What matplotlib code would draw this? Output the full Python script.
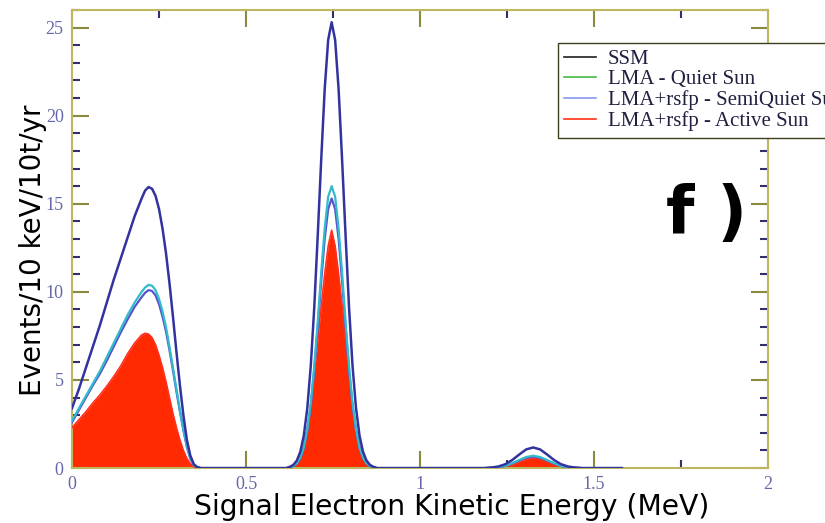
import numpy as np
import matplotlib
matplotlib.use('Agg')
import matplotlib.pyplot as plt
from matplotlib.lines import Line2D
from matplotlib.ticker import MultipleLocator

# energy grid (MeV): first bump, 7Be line, pep line, tail
energy = [0.00, 0.02, 0.04, 0.06, 0.08, 0.10, 0.12, 0.14, 0.16, 0.18, 0.20,
          0.21, 0.22, 0.23, 0.24, 0.25, 0.26, 0.27, 0.28, 0.29, 0.30, 0.31,
          0.32, 0.33, 0.34, 0.35, 0.36, 0.37,
          0.616, 0.626, 0.636, 0.646, 0.656, 0.666, 0.676, 0.686, 0.696,
          0.706, 0.716, 0.726, 0.736, 0.746, 0.756, 0.766, 0.776, 0.786,
          0.796, 0.806, 0.816, 0.826, 0.836, 0.846, 0.856, 0.866, 0.876,
          1.185, 1.205, 1.225, 1.245, 1.265, 1.285, 1.305, 1.325, 1.345,
          1.365, 1.385, 1.405, 1.425, 1.445, 1.465, 1.58]

ssm = [3.4, 4.5, 5.7, 6.9, 8.1, 9.4, 10.7, 11.9, 13.1, 14.3, 15.3,
       15.75, 15.95, 15.85, 15.45, 14.7, 13.6, 12.2, 10.5, 8.6, 6.6, 4.7,
       3.0, 1.6, 0.7, 0.22, 0.05, 0.0,
       0.0, 0.07, 0.18, 0.43, 0.93, 1.85, 3.4, 5.8, 9.1,
       13.2, 17.5, 21.5, 24.3, 25.3, 24.3, 21.5, 17.5,
       13.2, 9.1, 5.8, 3.4, 1.85, 0.93, 0.43, 0.18, 0.07, 0.0,
       0.0, 0.03, 0.09, 0.22, 0.46, 0.77, 1.06, 1.17, 1.06,
       0.77, 0.46, 0.22, 0.09, 0.03, 0.0, 0.0]

lma_quiet = [2.7, 3.4, 4.1, 4.8, 5.5, 6.3, 7.1, 7.9, 8.7, 9.4, 10.0,
             10.25, 10.4, 10.35, 10.1, 9.6, 8.9, 8.0, 6.9, 5.7, 4.5, 3.3,
             2.2, 1.25, 0.55, 0.18, 0.04, 0.0,
             0.0, 0.05, 0.12, 0.27, 0.59, 1.17, 2.2, 3.7, 5.8,
             8.3, 11.1, 13.6, 15.4, 16.0, 15.4, 13.6, 11.1,
             8.3, 5.8, 3.7, 2.2, 1.17, 0.59, 0.27, 0.12, 0.05, 0.0,
             0.0, 0.02, 0.05, 0.13, 0.28, 0.46, 0.63, 0.70, 0.63,
             0.46, 0.28, 0.13, 0.05, 0.02, 0.0, 0.0]

lma_semi = [2.6, 3.3, 4.0, 4.7, 5.35, 6.1, 6.9, 7.7, 8.45, 9.15, 9.7,
            9.95, 10.1, 10.05, 9.8, 9.3, 8.6, 7.75, 6.7, 5.55, 4.35, 3.2,
            2.15, 1.2, 0.52, 0.17, 0.04, 0.0,
            0.0, 0.05, 0.11, 0.26, 0.56, 1.12, 2.1, 3.5, 5.5,
            8.0, 10.6, 13.0, 14.7, 15.3, 14.7, 13.0, 10.6,
            8.0, 5.5, 3.5, 2.1, 1.12, 0.56, 0.26, 0.11, 0.05, 0.0,
            0.0, 0.02, 0.05, 0.12, 0.26, 0.43, 0.59, 0.65, 0.59,
            0.43, 0.26, 0.12, 0.05, 0.02, 0.0, 0.0]

lma_active = [2.3, 2.75, 3.2, 3.7, 4.15, 4.65, 5.2, 5.8, 6.5, 7.1, 7.55,
              7.65, 7.6, 7.4, 7.0, 6.4, 5.7, 4.9, 4.0, 3.1, 2.3, 1.6,
              1.0, 0.55, 0.25, 0.08, 0.02, 0.0,
              0.0, 0.06, 0.16, 0.35, 0.70, 1.3, 2.25, 3.6, 5.3,
              7.2, 9.2, 11.0, 12.6, 13.5, 12.6, 11.0, 9.2,
              7.2, 5.3, 3.6, 2.25, 1.3, 0.70, 0.35, 0.16, 0.06, 0.0,
              0.0, 0.015, 0.045, 0.11, 0.23, 0.38, 0.52, 0.58, 0.52,
              0.38, 0.23, 0.11, 0.045, 0.015, 0.0, 0.0]

labels = ['SSM', 'LMA - Quiet Sun', 'LMA+rsfp - SemiQuiet Sun', 'LMA+rsfp - Active Sun']

fig = plt.figure(figsize=(8.25, 5.23), dpi=100)
ax = fig.add_axes([0.0873, 0.105, 0.8437, 0.876])

spine_col = '#bdb860'
tick_col = '#6666aa'

ax.fill_between(energy, lma_active, 0, color='#ff2a00', lw=0, zorder=2)
ax.plot(energy, lma_active, color='#ff3020', lw=1.2, zorder=3)
ax.plot(energy, lma_semi, color='#5555cc', lw=1.6, zorder=4)
ax.plot(energy, lma_quiet, color='#33bbcc', lw=1.6, zorder=4)
ax.plot(energy, ssm, color='#3333a0', lw=1.8, zorder=5)

ax.set_xlim(0, 2)
ax.set_ylim(0, 26)
ax.xaxis.set_major_locator(MultipleLocator(0.5))
ax.xaxis.set_minor_locator(MultipleLocator(0.25))
ax.yaxis.set_major_locator(MultipleLocator(5))
ax.yaxis.set_minor_locator(MultipleLocator(1))
ax.set_xticks([0, 0.5, 1, 1.5, 2])
ax.set_xticklabels(['0', '0.5', '1', '1.5', '2'])

for sp in ax.spines.values():
    sp.set_color(spine_col)
    sp.set_linewidth(1.5)

ax.tick_params(which='both', direction='in', top=True, right=True)
ax.tick_params(which='major', length=12, width=1.5, color='#8a8a40',
               labelsize=13, labelcolor=tick_col, pad=6)
ax.tick_params(which='minor', length=6, width=1.5, color='#303070')
for lab in ax.get_xticklabels() + ax.get_yticklabels():
    lab.set_family('Liberation Serif')

ax.set_xlabel('Signal Electron Kinetic Energy (MeV)', fontsize=20.3,
              family='DejaVu Sans')
ax.xaxis.set_label_coords(0.545, -0.1026, transform=ax.transAxes)
ax.xaxis.label.set_va('baseline')
ax.set_ylabel('Events/10 keV/10t/yr', fontsize=20, family='DejaVu Sans')
ax.yaxis.set_label_coords(-0.036, 0.476, transform=ax.transAxes)

handles = [Line2D([], [], color='#202020', lw=1.2),
           Line2D([], [], color='#44bb44', lw=1.2),
           Line2D([], [], color='#8899ee', lw=1.2),
           Line2D([], [], color='#ff3010', lw=1.2)]
leg = fig.legend(handles, labels, loc='upper left',
                 bbox_to_anchor=(558 / 825, 1 - 43 / 523),
                 prop={'family': 'Liberation Serif', 'size': 15},
                 labelcolor='#202040', frameon=True, fancybox=False,
                 edgecolor='#404020', framealpha=1, labelspacing=0.05,
                 handlelength=1.5, handletextpad=0.6, borderpad=0.3,
                 borderaxespad=0)
leg.get_frame().set_linewidth(1.0)

fig.text(666 / 825, 1 - 233 / 523, 'f )', fontsize=47, fontweight='bold',
         family='DejaVu Sans', ha='left', va='baseline')

fig.savefig('out.png', dpi=100)
